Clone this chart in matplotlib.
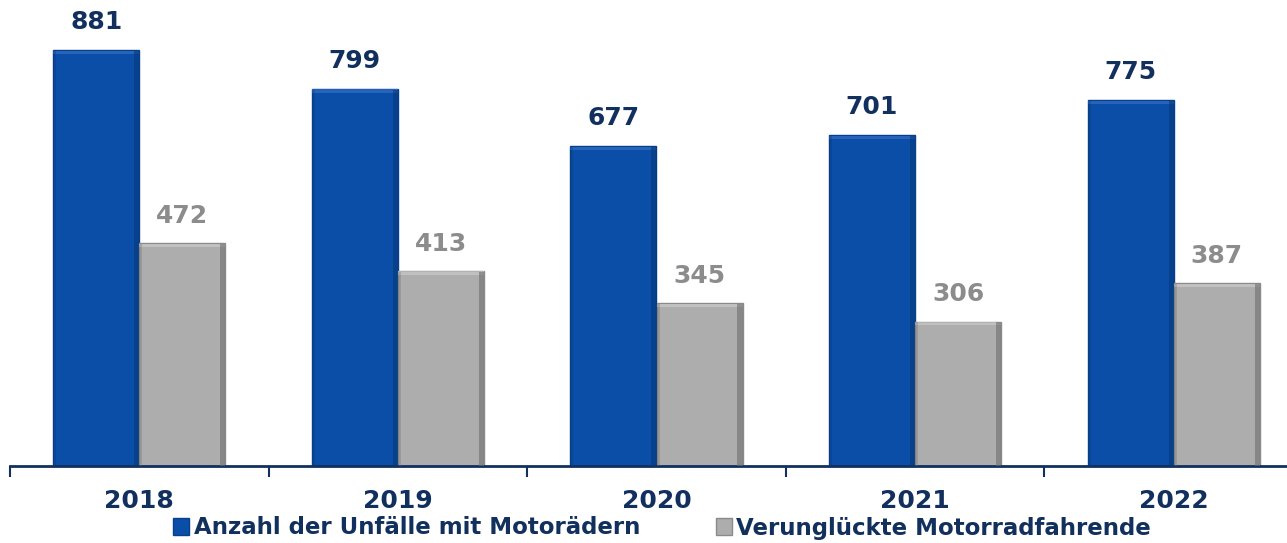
import numpy as np
import matplotlib.pyplot as plt
from matplotlib.patches import Rectangle

years = ["2018", "2019", "2020", "2021", "2022"]
unfaelle = [881, 799, 677, 701, 775]
verunglueckte = [472, 413, 345, 306, 387]
series_names = ["Anzahl der Unfälle mit Motorädern", "Verunglückte Motorradfahrende"]

blue = "#0a4ea8"
grey = "#adadad"
navy = "#12305e"
grey_txt = "#8c8c8c"

fig = plt.figure(figsize=(12.87, 5.43), dpi=100)
ax = fig.add_axes([10 / 1287, 77 / 543, 1277 / 1287, 466 / 543])

x = np.arange(len(years))
w = 0.333
b1 = ax.bar(x - w / 2, unfaelle, w, color=blue, edgecolor="#083f8c", linewidth=1.0, zorder=2)
b2 = ax.bar(x + w / 2, verunglueckte, w, color=grey, edgecolor="#8a8a8a", linewidth=1.0, zorder=2)

# rough bevel: light top edge, dark right edge
for bars, light, dark in ((b1, "#3a74c8", "#06397a"), (b2, "#d0d0d0", "#6e6e6e")):
    for r in bars:
        x0, wd, h = r.get_x(), r.get_width(), r.get_height()
        ax.add_patch(Rectangle((x0, h - 8), wd, 7, color=light, alpha=0.6, lw=0, zorder=3))
        ax.add_patch(Rectangle((x0 + wd - 0.02, 0), 0.02, h - 2, color=dark, alpha=0.6, lw=0, zorder=3))
        ax.add_patch(Rectangle((x0, 0), 0.012, h - 2, color=dark, alpha=0.3, lw=0, zorder=3))

for xi, v in zip(x, unfaelle):
    ax.text(xi - w / 2, v + 34, str(v), ha="center", va="bottom", fontsize=18,
            fontweight="bold", color=navy)
for xi, v in zip(x, verunglueckte):
    ax.text(xi + w / 2, v + 32, str(v), ha="center", va="bottom", fontsize=18,
            fontweight="bold", color=grey_txt)

ax.set_yticks([])
for s in ("top", "right", "left"):
    ax.spines[s].set_visible(False)
ax.spines["bottom"].set_color(navy)
ax.spines["bottom"].set_linewidth(2)

ax.set_xticks(np.arange(len(years)) - 0.5)
ax.set_xticklabels([])
ax.tick_params(axis="x", length=8, width=1.5, color=navy)
ax.set_xlim(-0.5, -0.5 + 1277 / 258.6)
ax.set_ylim(0, 987)
for xi, y in zip(x, years):
    ax.text(xi, -0.075, y, transform=ax.get_xaxis_transform(), ha="center", va="center",
            fontsize=18, fontweight="bold", color=navy)

leg = fig.legend([b1, b2], series_names, loc="center", bbox_to_anchor=(662 / 1287, 15 / 543),
                 ncol=2, frameon=False, fontsize=16.5, handlelength=0.7, handleheight=0.7,
                 handletextpad=0.2, columnspacing=3.3, borderaxespad=0)
for t in leg.get_texts():
    t.set_color(navy)
    t.set_fontweight("bold")

fig.savefig("out.png", dpi=100)
